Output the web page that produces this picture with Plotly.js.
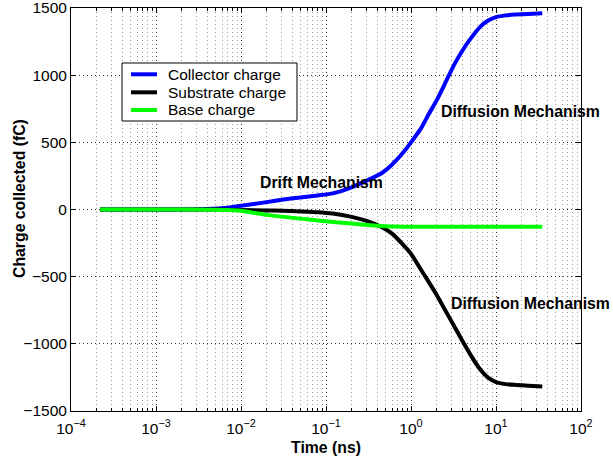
<!DOCTYPE html>
<html>
<head>
<meta charset="utf-8">
<script src="https://cdn.plot.ly/plotly-3.0.1.min.js"></script>
<style>html,body{margin:0;padding:0;background:#fff;}#chart{width:613px;height:463px;}</style>
</head>
<body>
<div id="chart"></div>
<script>
// Time axis (ns)
const timeNs = [2.2e-4, 5e-4, 1e-3, 2e-3, 4e-3, 7e-3, 0.01, 0.02, 0.03, 0.05, 0.08, 0.12, 0.2, 0.3, 0.45, 0.6, 0.8, 1.0, 1.3, 1.6, 2.0, 2.5, 3.2, 4, 5, 6.5, 8, 10, 13, 17, 24, 35];
// Charge collected (fC)
const collectorCharge = [0, 0, 0, 0, 3, 14, 28, 55, 72, 90, 105, 120, 165, 215, 270, 335, 420, 500, 600, 705, 812, 935, 1075, 1180, 1270, 1360, 1405, 1432, 1445, 1451, 1456, 1460];
const substrateCharge = [0, 0, 0, 0, 0, -2, -4, -7, -9, -14, -20, -30, -55, -85, -130, -180, -260, -330, -445, -535, -635, -745, -865, -975, -1080, -1190, -1250, -1285, -1300, -1306, -1312, -1318];
const baseCharge = [0, 0, 0, 0, -2, -4, -10, -40, -53, -68, -82, -93, -105, -115, -123, -126, -128, -128, -128, -128, -128, -128, -128, -128, -128, -128, -128, -128, -128, -128, -128, -128];

const seriesNames = ['Collector charge', 'Substrate charge', 'Base charge'];
const seriesColors = ['#0000ff', '#000000', '#00ff00'];

const xTickVals = [1e-4, 1e-3, 1e-2, 1e-1, 1e0, 1e1, 1e2];
const xTickText = ['10<sup>\u22124</sup>', '10<sup>\u22123</sup>', '10<sup>\u22122</sup>', '10<sup>\u22121</sup>', '10<sup>0</sup>', '10<sup>1</sup>', '10<sup>2</sup>'];
const yTickVals = [-1500, -1000, -500, 0, 500, 1000, 1500];
const yTickText = ['\u22121500', '\u22121000', '\u2212500', '0', '500', '1000', '1500'];

const xTitle = 'Time (ns)';
const yTitle = 'Charge collected (fC)';

const notes = [
  {text: 'Drift Mechanism', t: 0.0897, q: 204},
  {text: 'Diffusion Mechanism', t: 19.4, q: 727},
  {text: 'Diffusion Mechanism', t: 25.6, q: -703}
];

const FONT = 'Liberation Sans, Arial, Helvetica, sans-serif';
const seriesData = [collectorCharge, substrateCharge, baseCharge];
const traces = seriesData.map((vals, i) => ({
  x: timeNs, y: vals, type: 'scatter', mode: 'lines', name: seriesNames[i],
  showlegend: false,
  line: {color: seriesColors[i], width: 4, shape: 'spline', smoothing: 0.6}
}));

// Legend box (drawn in paper coordinates)
const legBox = {x0: 0.1, x1: 0.4431, y0: 0.7196, y1: 0.8635};
const legRowsY = [0.8355, 0.7908, 0.7469];
const legLineX = [0.1176, 0.1686];
const legTextX = 0.1856;

const shapes = [{type: 'rect', xref: 'paper', yref: 'paper', x0: legBox.x0, x1: legBox.x1, y0: legBox.y0, y1: legBox.y1,
  line: {color: '#000', width: 1}, fillcolor: '#fff', layer: 'above'}];
seriesNames.forEach((n, i) => shapes.push({type: 'line', xref: 'paper', yref: 'paper',
  x0: legLineX[0], x1: legLineX[1], y0: legRowsY[i], y1: legRowsY[i],
  line: {color: seriesColors[i], width: 4}, layer: 'above'}));

const annotations = notes.map(n => ({
  x: Math.log10(n.t), y: n.q, xref: 'x', yref: 'y',
  text: '<b>' + n.text + '</b>', showarrow: false,
  xanchor: 'center', yanchor: 'middle',
  font: {family: FONT, size: 15.8, color: '#000'}
}));
seriesNames.forEach((n, i) => annotations.push({
  x: legTextX, y: legRowsY[i], xref: 'paper', yref: 'paper', text: n, showarrow: false,
  xanchor: 'left', yanchor: 'middle', font: {family: FONT, size: 15.5, color: '#000'}
}));
// y-axis title
annotations.push({
  x: -0.102, y: 0.5285, xref: 'paper', yref: 'paper', text: '<b>' + yTitle + '</b>',
  textangle: -90, showarrow: false, xanchor: 'center', yanchor: 'middle',
  font: {family: FONT, size: 15.8, color: '#000'}
});

const dotDash = '1px,3px';
const layout = {
  width: 613, height: 463,
  margin: {l: 71, r: 32, t: 8, b: 52},
  paper_bgcolor: '#fff', plot_bgcolor: '#fff',
  font: {family: FONT, size: 15, color: '#000'},
  showlegend: false,
  xaxis: {
    type: 'log', range: [-4, 2],
    tickmode: 'array', tickvals: xTickVals, ticktext: xTickText,
    ticks: 'inside', ticklen: 5, tickcolor: '#000',
    showline: true, linecolor: '#000', linewidth: 1, mirror: 'ticks',
    showgrid: true, gridcolor: '#333', griddash: dotDash, gridwidth: 1,
    minor: {dtick: 'D1', ticks: 'inside', ticklen: 3, tickcolor: '#000', showgrid: true, gridcolor: '#999', griddash: dotDash},
    zeroline: false,
    ticklabelstandoff: 3,
    ticklabeloverflow: 'allow',
    tickfont: {family: FONT, size: 15.5},
    title: {text: '<b>' + xTitle + '</b>', font: {family: FONT, size: 15.8}, standoff: 6},
    automargin: false
  },
  yaxis: {
    range: [-1500, 1500], tickmode: 'array', tickvals: yTickVals, ticktext: yTickText,
    ticks: 'inside', ticklen: 5, tickcolor: '#000',
    showline: true, linecolor: '#000', linewidth: 1, mirror: 'ticks',
    showgrid: true, gridcolor: '#333', griddash: dotDash, gridwidth: 1,
    zeroline: false,
    ticklabeloverflow: 'allow',
    tickfont: {family: FONT, size: 15.5},
    automargin: false
  },
  shapes: shapes,
  annotations: annotations
};

Plotly.newPlot('chart', traces, layout, {staticPlot: true, displayModeBar: false});
</script>
</body>
</html>
